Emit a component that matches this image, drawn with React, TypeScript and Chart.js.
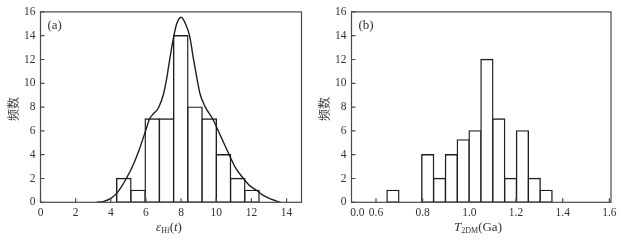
import React, { useEffect, useRef } from "react";
import { Chart, registerables } from "chart.js";

Chart.register(...registerables);

const SERIF = '"Liberation Serif", "Times New Roman", serif';
const CJK = '"Noto Sans CJK SC", "Noto Sans CJK JP", sans-serif';
const TEXT = "#333333";
const INK = "#1e1e1e";

// ---------- Panel (a): εHf(t) histogram with fitted curve ----------
const aBinCenters = [4.74, 5.55, 6.36, 7.17, 7.98, 8.79, 9.6, 10.41, 11.22, 12.03];
const aCounts = [2, 1, 7, 7, 14, 8, 7, 4, 2, 1];
const aCurveX = [3.2, 3.6, 4.0, 4.33, 4.6, 4.88, 5.2, 5.6, 6.0, 6.2, 6.4, 6.7, 7.0, 7.19, 7.34, 7.59, 7.75, 8.0, 8.25, 8.48, 8.72, 8.89, 9.08, 9.38, 9.8, 10.3, 10.71, 11.1, 11.5, 11.9, 12.27, 12.6, 13.02, 13.4, 13.65];
const aCurveY = [0, 0.08, 0.33, 0.75, 1.3, 2.0, 2.9, 4.36, 6.1, 7.0, 7.4, 7.9, 9.1, 10.5, 11.9, 14.0, 15.0, 15.55, 15.0, 14.0, 11.9, 10.5, 9.1, 8.0, 7.0, 5.4, 4.08, 2.9, 2.08, 1.4, 1.03, 0.65, 0.33, 0.12, 0];
const aXTickValues = [0, 2, 4, 6, 8, 10, 12, 14];
const aXTickLabels = ["0", "2", "4", "6", "8", "10", "12", "14"];
const aXTickMarks = [true, true, true, true, true, true, true, true];

// ---------- Panel (b): T2DM histogram ----------
const bBinCenters = [0.6725, 0.8215, 0.8722, 0.923, 0.9737, 1.0245, 1.0752, 1.126, 1.1767, 1.2275, 1.2782, 1.329];
const bCounts = [1, 4, 2, 4, 5.25, 6, 12, 7, 2, 6, 2, 1];
const bXTickValues = [0.52, 0.6, 0.8, 1.0, 1.2, 1.4, 1.6];
const bXTickLabels = ["0.0", "0.6", "0.8", "1.0", "1.2", "1.4", "1.6"];
const bXTickMarks = [false, true, true, true, true, true, true];

// ---------- shared y axis ----------
const yTickValues = [0, 2, 4, 6, 8, 10, 12, 14, 16];
const yTitle = "频数";

type Part = { text: string; italic?: boolean; sub?: boolean };

const aXTitle: Part[] = [
  { text: "ε", italic: true },
  { text: "Hf", sub: true },
  { text: "(" },
  { text: "t", italic: true },
  { text: ")" },
];
const bXTitle: Part[] = [
  { text: "T", italic: true },
  { text: "2DM", sub: true },
  { text: "(Ga)" },
];

type PanelCfg = {
  canvasLeft: number;
  canvasWidth: number;
  padLeft: number;
  padRight: number;
  xMin: number;
  xMax: number;
  xTickValues: number[];
  xTickLabels: string[];
  xTickMarks: boolean[];
  binCenters: number[];
  counts: number[];
  curveX?: number[];
  curveY?: number[];
  label: string;
  xTitle: Part[];
  xTitleCenter: number;
};

const CANVAS_H = 243;
const PAD_TOP = 9.5;
const X_AXIS_H = 40.7;
const Y_AXIS_W = 40.5;
const BAR_LINE = 1.4;

function drawParts(ctx: CanvasRenderingContext2D, parts: Part[], cx: number, baseline: number) {
  const main = 13;
  const sub = 8;
  const fontOf = (p: Part) =>
    `${p.italic ? "italic " : ""}${p.sub ? sub : main}px ${SERIF}`;
  let total = 0;
  const widths = parts.map((p) => {
    ctx.font = fontOf(p);
    const w = ctx.measureText(p.text).width;
    total += w;
    return w;
  });
  let x = cx - total / 2;
  ctx.fillStyle = TEXT;
  ctx.textAlign = "left";
  ctx.textBaseline = "alphabetic";
  parts.forEach((p, i) => {
    ctx.font = fontOf(p);
    ctx.fillText(p.text, x, baseline + (p.sub ? 2.5 : 0));
    x += widths[i];
  });
}

function Panel({ cfg }: { cfg: PanelCfg }) {
  const ref = useRef<HTMLCanvasElement | null>(null);
  useEffect(() => {
    if (!ref.current) return;
    const framePlugin = {
      id: "frameTicks",
      afterDraw(chart: any) {
        const ctx: CanvasRenderingContext2D = chart.ctx;
        const { left, right, top, bottom } = chart.chartArea;
        ctx.save();
        ctx.strokeStyle = "#4a4a4a";
        ctx.lineWidth = 1.2;
        ctx.strokeRect(left, top, right - left, bottom - top);
        const xs = chart.scales.x;
        const ys = chart.scales.y;
        ctx.beginPath();
        cfg.xTickValues.forEach((v, i) => {
          if (!cfg.xTickMarks[i]) return;
          const px = xs.getPixelForValue(v);
          ctx.moveTo(px, bottom);
          ctx.lineTo(px, bottom - 4);
        });
        yTickValues.forEach((v) => {
          const py = ys.getPixelForValue(v);
          ctx.moveTo(left, py);
          ctx.lineTo(left + 4, py);
        });
        ctx.stroke();
        // panel label
        ctx.fillStyle = TEXT;
        ctx.font = `13px ${SERIF}`;
        ctx.textAlign = "left";
        ctx.textBaseline = "alphabetic";
        ctx.fillText(cfg.label, left + 7, top + 17.5);
        // y title
        ctx.save();
        ctx.translate(left - 27, (top + bottom) / 2 + 2);
        ctx.rotate(-Math.PI / 2);
        ctx.font = `12px ${CJK}`;
        ctx.textAlign = "center";
        ctx.textBaseline = "middle";
        ctx.fillStyle = "#444";
        ctx.fillText(yTitle, 0, 0);
        ctx.restore();
        // x title
        drawParts(ctx, cfg.xTitle, cfg.xTitleCenter - cfg.canvasLeft, 230.5);
        ctx.restore();
      },
    };

    const datasets: any[] = [];
    if (cfg.curveX && cfg.curveY) {
      datasets.push({
        type: "line",
        data: cfg.curveX.map((x, i) => ({ x, y: cfg.curveY![i] })),
        borderColor: INK,
        borderWidth: 1.4,
        pointRadius: 0,
        cubicInterpolationMode: "monotone",
        fill: false,
      });
    }
    datasets.push({
      type: "bar",
      data: cfg.binCenters.map((x, i) => ({ x, y: cfg.counts[i] })),
      backgroundColor: "#ffffff",
      borderColor: INK,
      borderWidth: BAR_LINE,
      borderSkipped: false,
      inflateAmount: BAR_LINE / 2,
      barPercentage: 1,
      categoryPercentage: 1,
    });

    const chart = new Chart(ref.current, {
      type: "bar",
      data: { datasets },
      options: {
        responsive: false,
        animation: false,
        devicePixelRatio: 1,
        layout: { padding: { left: cfg.padLeft, right: cfg.padRight, top: PAD_TOP, bottom: 0 } },
        plugins: { legend: { display: false }, tooltip: { enabled: false } },
        scales: {
          x: {
            type: "linear",
            min: cfg.xMin,
            max: cfg.xMax,
            offset: false,
            grid: { display: false, drawTicks: false },
            border: { display: false },
            afterBuildTicks: (s: any) => {
              s.ticks = cfg.xTickValues.map((v) => ({ value: v }));
            },
            afterFit: (s: any) => {
              s.height = X_AXIS_H;
            },
            ticks: {
              autoSkip: false,
              maxRotation: 0,
              padding: 4,
              color: TEXT,
              font: { family: SERIF, size: 11.5 },
              callback: (v: any) => {
                const idx = cfg.xTickValues.indexOf(Number(v));
                return idx >= 0 ? cfg.xTickLabels[idx] : "";
              },
            },
          },
          y: {
            type: "linear",
            min: 0,
            max: 16,
            grid: { display: false, drawTicks: false },
            border: { display: false },
            afterBuildTicks: (s: any) => {
              s.ticks = yTickValues.map((v) => ({ value: v }));
            },
            afterFit: (s: any) => {
              s.width = Y_AXIS_W - cfg.padLeft;
            },
            ticks: {
              padding: 5,
              color: TEXT,
              font: { family: SERIF, size: 11.5 },
            },
          },
        },
      },
      plugins: [framePlugin],
    } as any);
    return () => chart.destroy();
  }, [cfg]);

  return (
    <canvas
      ref={ref}
      width={cfg.canvasWidth}
      height={CANVAS_H}
      style={{
        position: "absolute",
        left: cfg.canvasLeft,
        top: 0,
        width: cfg.canvasWidth,
        height: CANVAS_H,
      }}
    />
  );
}

const panelA: PanelCfg = {
  canvasLeft: 0,
  canvasWidth: 311,
  padLeft: 0,
  padRight: 9.5,
  xMin: 0,
  xMax: 14.85,
  xTickValues: aXTickValues,
  xTickLabels: aXTickLabels,
  xTickMarks: aXTickMarks,
  binCenters: aBinCenters,
  counts: aCounts,
  curveX: aCurveX,
  curveY: aCurveY,
  label: "(a)",
  xTitle: aXTitle,
  xTitleCenter: 169,
};

const panelB: PanelCfg = {
  canvasLeft: 311,
  canvasWidth: 312,
  padLeft: 0,
  padRight: 12,
  xMin: 0.495,
  xMax: 1.607,
  xTickValues: bXTickValues,
  xTickLabels: bXTickLabels,
  xTickMarks: bXTickMarks,
  binCenters: bBinCenters,
  counts: bCounts,
  label: "(b)",
  xTitle: bXTitle,
  xTitleCenter: 478,
};

export default function App() {
  return (
    <div
      style={{
        position: "fixed",
        left: 0,
        top: 0,
        width: 623,
        height: CANVAS_H,
        background: "#ffffff",
        overflow: "hidden",
      }}
    >
      <Panel cfg={panelA} />
      <Panel cfg={panelB} />
    </div>
  );
}
